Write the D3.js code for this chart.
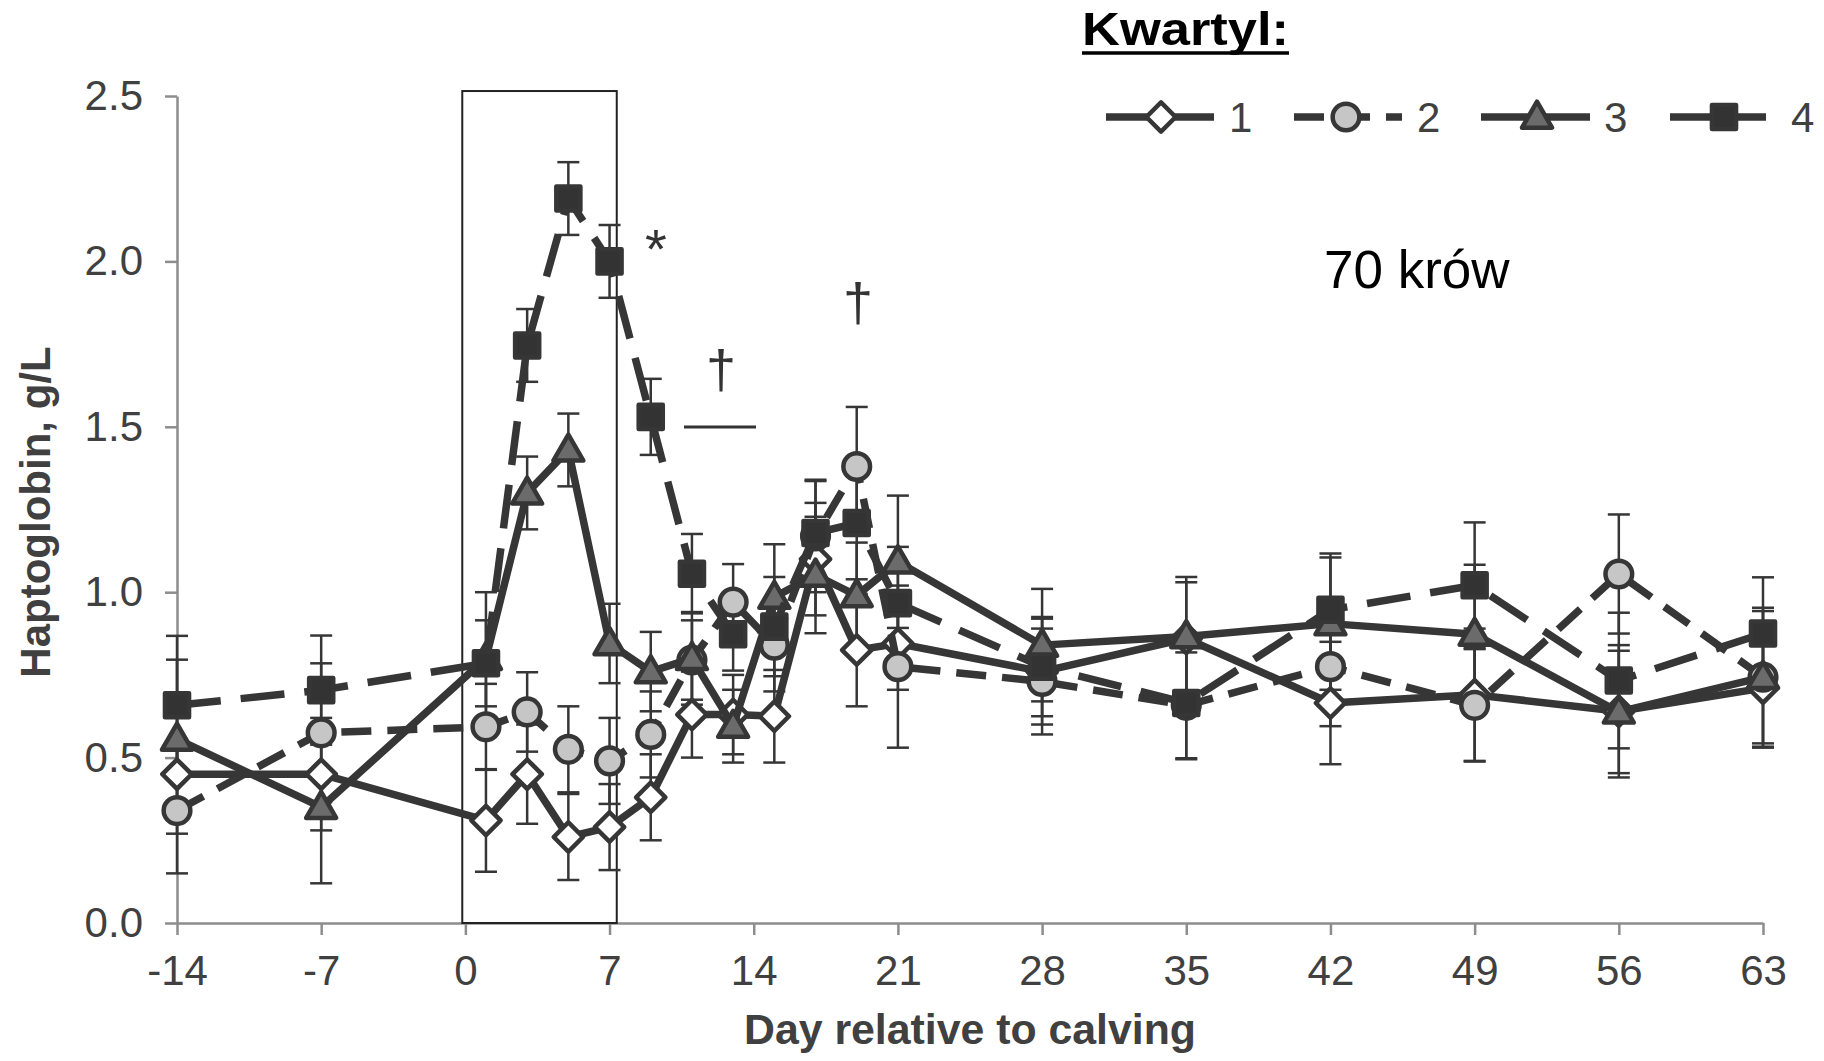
<!DOCTYPE html>
<html><head><meta charset="utf-8">
<script src="https://cdn.jsdelivr.net/npm/d3@7"></script>
<style>
html,body{margin:0;padding:0;background:#fff;}
svg{display:block;}
text{font-family:"Liberation Sans",Arial,Helvetica,sans-serif;}
</style>
</head><body>
<svg id="chart" width="1824" height="1061"></svg>
<script>
// ---------------- data ----------------
const days = [-14, -7, 1, 3, 5, 7, 9, 11, 13, 15, 17, 19, 21, 28, 35, 42, 49, 56, 63];
const q1 = [0.45, 0.45, 0.31, 0.45, 0.26, 0.29, 0.38, 0.63, 0.63, 0.625, 1.10, 0.825, 0.845, 0.76, 0.86, 0.665, 0.69, 0.64, 0.71];
const q2 = [0.34, 0.575, 0.593, 0.638, 0.525, 0.49, 0.57, 0.795, 0.97, 0.84, 1.17, 1.38, 0.775, 0.73, 0.658, 0.775, 0.658, 1.055, 0.743];
const q3 = [0.556, 0.35, 0.80, 1.30, 1.43, 0.845, 0.76, 0.80, 0.595, 0.985, 1.052, 0.99, 1.092, 0.84, 0.866, 0.905, 0.873, 0.638, 0.743];
const q4 = [0.658, 0.704, 0.785, 1.746, 2.19, 2.0, 1.53, 1.056, 0.873, 0.896, 1.179, 1.209, 0.967, 0.775, 0.665, 0.947, 1.021, 0.733, 0.875];
const q1se = [0.18, 0.17, 0.155, 0.15, 0.13, 0.13, 0.13, 0.13, 0.12, 0.14, 0.17, 0.17, 0.14, 0.16, 0.17, 0.185, 0.20, 0.20, 0.18];
const q2se = [0.19, 0.21, 0.13, 0.12, 0.13, 0.13, 0.13, 0.12, 0.115, 0.14, 0.17, 0.18, 0.245, 0.16, 0.16, 0.18, 0.17, 0.18, 0.21];
const q3se = [0.24, 0.23, 0.20, 0.11, 0.11, 0.12, 0.12, 0.14, 0.11, 0.16, 0.176, 0.16, 0.20, 0.17, 0.18, 0.20, 0.21, 0.185, 0.20];
const q4se = [0.21, 0.165, 0.13, 0.11, 0.11, 0.11, 0.115, 0.12, 0.11, 0.15, 0.157, 0.17, 0.17, 0.15, 0.17, 0.17, 0.19, 0.205, 0.17];
const seriesNames = ["1", "2", "3", "4"];
const xTicks = [-14, -7, 0, 7, 14, 21, 28, 35, 42, 49, 56, 63];
const yTicks = [0, 0.5, 1.0, 1.5, 2.0, 2.5];
const boxDays = [-0.15, 7.35];
const boxTop = 2.515;
const legendTitle = "Kwartyl:";
const noteText = "70 krów";
const xTitle = "Day relative to calving";
const yTitle = "Haptoglobin, g/L";

// ---------------- layout ----------------
const svg = d3.select("#chart");
const x = d3.scaleLinear().domain([-14, 63]).range([177, 1763]);
const y = d3.scaleLinear().domain([0, 2.5]).range([923, 96]);
const INK = "#363636";
const AXIS = "#8d8d8d";
const TXT = "#404040";

const values = [q1, q2, q3, q4];
const ses = [q1se, q2se, q3se, q4se];
const styles = [
  {shape: "diamond", fill: "#ffffff", dash: null},
  {shape: "circle", fill: "#c6c6c6", dash: "30,16"},
  {shape: "triangle", fill: "#6b6b6b", dash: null},
  {shape: "square", fill: "#333333", dash: "44,20"}
];
const series = seriesNames.map((name, i) => ({
  name, style: styles[i],
  pts: days.map((d, j) => ({day: d, v: values[i][j], se: ses[i][j]}))
}));

function symbolPath(shape) {
  if (shape === "diamond") return d3.symbol().type(d3.symbolSquare).size(430)();
  if (shape === "circle") return d3.symbol().type(d3.symbolCircle).size(560)();
  if (shape === "triangle") return d3.symbol().type(d3.symbolTriangle).size(390)();
  return d3.symbol().type(d3.symbolSquare).size(580)();
}
function drawMarker(g, shape, fill, cx, cy) {
  g.append("path")
    .attr("d", symbolPath(shape))
    .attr("transform", `translate(${cx},${cy})` + (shape === "diamond" ? " rotate(45)" : "") + (shape === "triangle" ? " translate(0,2)" : ""))
    .attr("fill", fill)
    .attr("stroke", INK)
    .attr("stroke-width", 4.5)
    .attr("stroke-linejoin", "round");
}

// ---------------- axes ----------------
const yAxis = svg.append("g").attr("transform", `translate(${x(-14)},0)`)
  .call(d3.axisLeft(y).tickValues(yTicks).tickFormat(d3.format(".1f")).tickSize(12).tickSizeOuter(0).tickPadding(22));
const xAxis = svg.append("g").attr("transform", `translate(0,${y(0)})`)
  .call(d3.axisBottom(x).tickValues(xTicks).tickFormat(d => String(d)).tickSize(12).tickSizeOuter(0).tickPadding(20));
[yAxis, xAxis].forEach(a => {
  a.select(".domain").attr("stroke", AXIS).attr("stroke-width", 2.5);
  a.selectAll(".tick line").attr("stroke", AXIS).attr("stroke-width", 2.5);
  a.selectAll(".tick text").attr("fill", TXT).attr("font-size", 42).attr("font-family", "Liberation Sans, Arial, sans-serif");
});

// box
svg.append("rect")
  .attr("x", x(boxDays[0])).attr("y", y(boxTop))
  .attr("width", x(boxDays[1]) - x(boxDays[0]))
  .attr("height", y(0) - y(boxTop))
  .attr("fill", "none").attr("stroke", "#222").attr("stroke-width", 2);

// error bars
const eb = svg.append("g");
series.forEach(s => {
  s.pts.forEach(p => {
    const x0 = x(p.day), yt = y(p.v + p.se), yb = y(p.v - p.se);
    eb.append("line").attr("x1", x0).attr("x2", x0).attr("y1", yt).attr("y2", yb)
      .attr("stroke", INK).attr("stroke-width", 2.5);
    [yt, yb].forEach(yy => eb.append("line").attr("x1", x0 - 11).attr("x2", x0 + 11).attr("y1", yy).attr("y2", yy)
      .attr("stroke", INK).attr("stroke-width", 2.5));
  });
});

// series lines + markers
const line = d3.line().x(d => x(d.day)).y(d => y(d.v));
series.forEach(s => {
  const g = svg.append("g");
  g.append("path").attr("d", line(s.pts)).attr("fill", "none")
    .attr("stroke", INK).attr("stroke-width", 7.5).attr("stroke-linejoin", "round")
    .attr("stroke-dasharray", s.style.dash);
  s.pts.forEach(p => drawMarker(g, s.style.shape, s.style.fill, x(p.day), y(p.v)));
});

// annotations
svg.append("text").attr("x", 656).attr("y", 268).attr("text-anchor", "middle")
  .attr("font-size", 56).attr("fill", "#333").text("*");
svg.append("text").attr("x", 721).attr("y", 388).attr("text-anchor", "middle")
  .attr("font-size", 54).attr("fill", "#333").text("†");
svg.append("line").attr("x1", 684).attr("x2", 756).attr("y1", 427).attr("y2", 427)
  .attr("stroke", "#333").attr("stroke-width", 3);
svg.append("text").attr("x", 858).attr("y", 321).attr("text-anchor", "middle")
  .attr("font-size", 54).attr("fill", "#333").text("†");

// axis titles
svg.append("text").attr("transform", "translate(50,512) rotate(-90)")
  .attr("text-anchor", "middle").attr("font-size", 42).attr("font-weight", "bold")
  .attr("fill", TXT).text(yTitle);
svg.append("text").attr("x", 970).attr("y", 1044).attr("text-anchor", "middle")
  .attr("font-size", 42).attr("font-weight", "bold").attr("fill", TXT)
  .attr("textLength", 452).attr("lengthAdjust", "spacingAndGlyphs").text(xTitle);

// legend title + note
svg.append("text").attr("x", 1082).attr("y", 45).attr("font-size", 47).attr("font-weight", "bold")
  .attr("fill", "#000").attr("textLength", 207).attr("lengthAdjust", "spacingAndGlyphs").text(legendTitle);
svg.append("line").attr("x1", 1082).attr("x2", 1289).attr("y1", 53).attr("y2", 53)
  .attr("stroke", "#000").attr("stroke-width", 3.5);
svg.append("text").attr("x", 1324).attr("y", 288).attr("font-size", 53).attr("fill", "#000").text(noteText);

// legend items
const legY = 117;
const legItems = [
  {x1: 1106, x2: 1214, mx: 1161, lx: 1229},
  {x1: 1294, x2: 1402, mx: 1346, lx: 1417},
  {x1: 1481, x2: 1590, mx: 1537, lx: 1604},
  {x1: 1670, x2: 1766, mx: 1724, lx: 1791}
];
series.forEach((s, i) => {
  const it = legItems[i];
  const g = svg.append("g");
  g.append("line").attr("x1", it.x1).attr("x2", it.x2).attr("y1", legY).attr("y2", legY)
    .attr("stroke", INK).attr("stroke-width", 7.5).attr("stroke-dasharray", s.style.dash);
  drawMarker(g, s.style.shape, s.style.fill, it.mx, legY);
  g.append("text").attr("x", it.lx).attr("y", legY + 15).attr("font-size", 42).attr("fill", TXT).text(s.name);
});
</script>
</body></html>
